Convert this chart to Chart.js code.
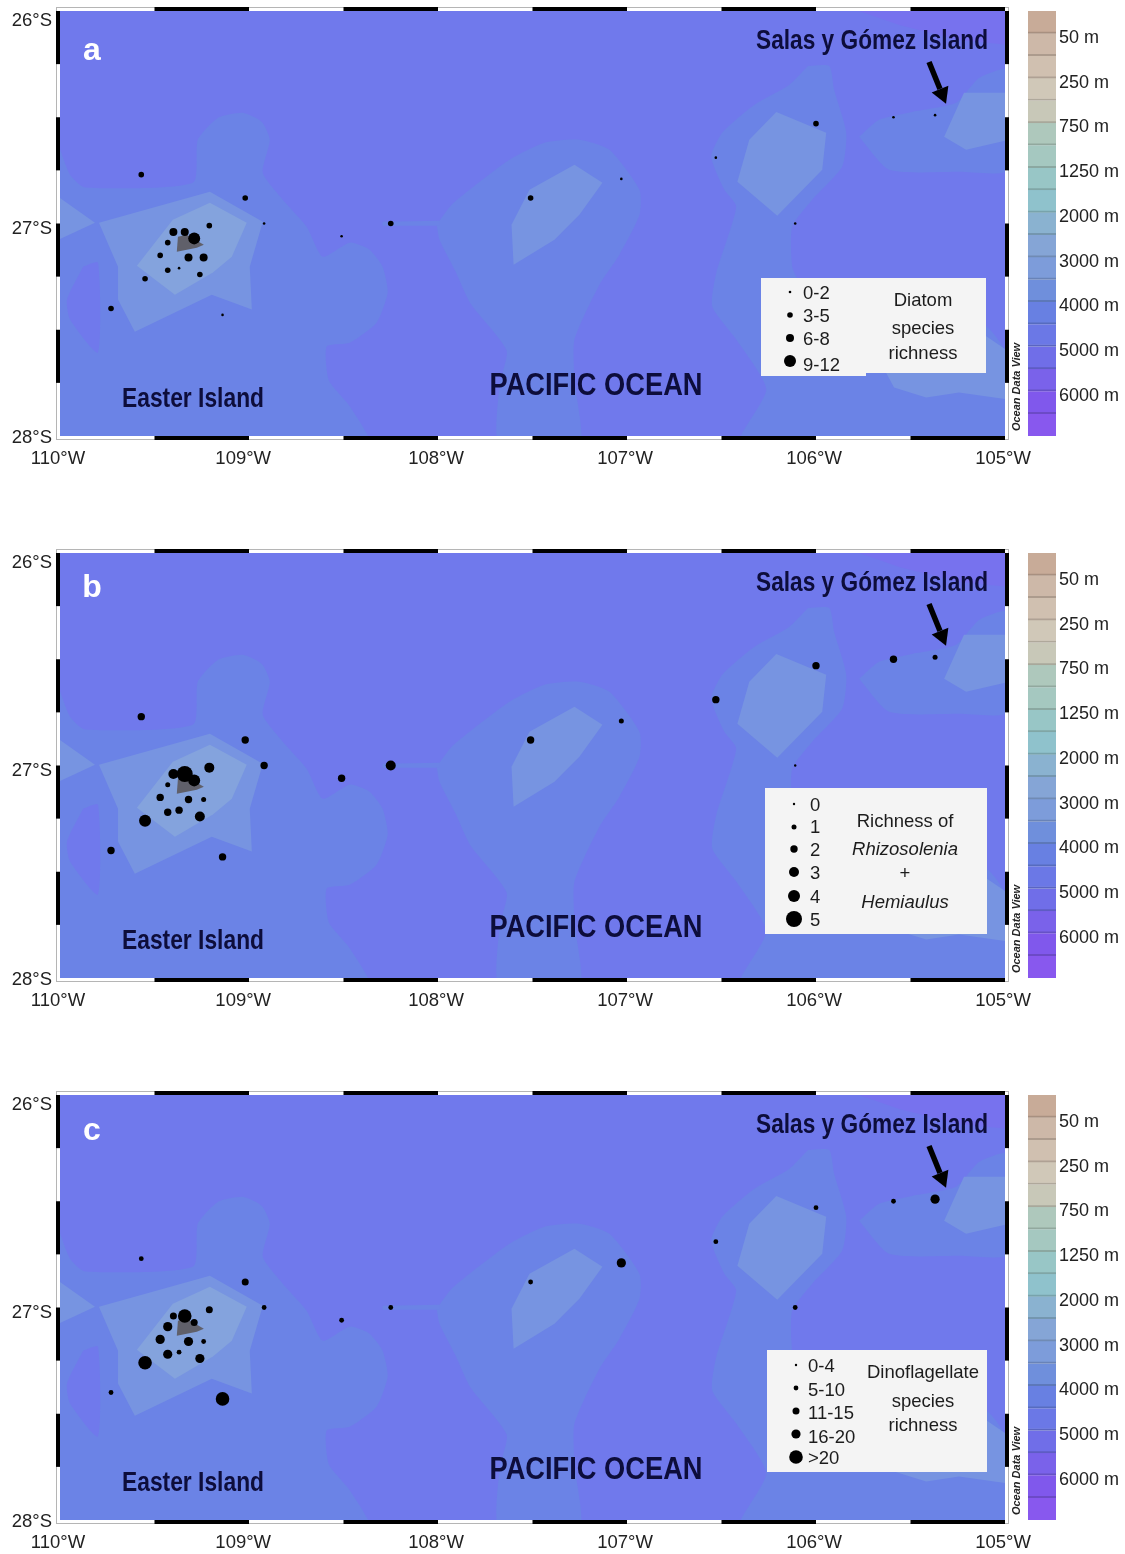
<!DOCTYPE html>
<html>
<head>
<meta charset="utf-8">
<title>Species richness, Easter Island to Salas y Gómez</title>
<script src="https://cdn.jsdelivr.net/npm/chart.js@4/dist/chart.umd.min.js"></script>
<style>
  html, body { margin: 0; padding: 0; background: #fff; }
  body { width: 1125px; height: 1554px; position: relative; overflow: hidden; }
  canvas { position: absolute; display: block; }
</style>
</head>
<body>
<script>
// sampling stations, lon / lat, same for the three maps
const stationLon = [-109.40, -109.34, -109.29, -109.21, -109.43, -109.47, -109.32, -109.24, -109.43, -109.37, -109.26, -109.55, -109.02,
                    -109.57, -109.73, -109.14, -108.92, -108.51, -108.25, -107.51, -107.03, -106.53, -106.00, -106.11, -105.59, -105.37];
const stationLat = [-27.04, -27.04, -27.07, -27.01, -27.09, -27.15, -27.16, -27.16, -27.22, -27.21, -27.24, -27.26, -26.88,
                    -26.77, -27.40, -27.43, -27.00, -27.06, -27.00, -26.88, -26.79, -26.69, -26.53, -27.00, -26.50, -26.49];

// legend class of each station
const classesA = [2, 2, 3, 1, 1, 1, 2, 2, 1, 0, 1, 1, 1, 1, 1, 0, 0, 0, 1, 1, 0, 0, 1, 0, 0, 0];
const classesB = [3, 5, 4, 3, 1, 2, 2, 1, 2, 2, 3, 4, 2, 2, 2, 2, 2, 2, 3, 2, 1, 2, 2, 0, 2, 1];
const classesC = [2, 4, 2, 2, 3, 3, 3, 1, 3, 1, 3, 4, 2, 1, 1, 4, 1, 1, 1, 1, 3, 1, 1, 1, 1, 3];

const legendA = ['0-2', '3-5', '6-8', '9-12'];
const legendB = ['0', '1', '2', '3', '4', '5'];
const legendC = ['0-4', '5-10', '11-15', '16-20', '>20'];

const titleA = ['Diatom', 'species', 'richness'];
const titleB = ['Richness of', 'Rhizosolenia', '+', 'Hemiaulus'];
const titleC = ['Dinoflagellate', 'species', 'richness'];

// axis labels sit a little off the true graticule in the original
const lonTicks = [-110, -109.02, -108, -107, -106, -105];
const latTicks = [-26.04, -27.02, -28];

// colour bar
const depthTicks = ['50 m', '250 m', '750 m', '1250 m', '2000 m', '3000 m', '4000 m', '5000 m', '6000 m'];
const depthColors = ['#c8ab98', '#cdb8a8', '#d0c0b0', '#d0c8b8', '#c8c8b8', '#aec8bc', '#a5c8c0', '#98c6c6', '#8fc2cc', '#8ab2d0',
                     '#85a5d6', '#7d9cda', '#6f8fdc', '#6880e2', '#6b78e6', '#706ee8', '#7a62ea', '#8058ec', '#8858ee'];

// bathymetry contours, [lon, lat]
const deepCorner = [[-105.772, -26.0], [-105.56, -26.066], [-105.243, -26.136], [-104.979, -26.16], [-104.979, -25.97]];
const deepPatch = [[-109.878, -27.203], [-109.799, -27.184], [-109.799, -27.607], [-109.947, -27.452], [-109.963, -27.358]];
const easterOuter = [[-110, -26.65], [-109.947, -26.77], [-109.868, -26.83], [-109.297, -26.808], [-109.271, -26.606], [-109.165, -26.503],
                     [-109.033, -26.479], [-108.932, -26.522], [-108.89, -26.606], [-108.927, -26.761], [-108.821, -26.888], [-108.695, -27.015],
                     [-108.61, -27.156], [-108.467, -27.09], [-108.362, -27.123], [-108.293, -27.203], [-108.266, -27.325], [-108.325, -27.467],
                     [-108.467, -27.561], [-108.589, -27.579], [-108.577, -27.739], [-108.467, -27.86], [-108.362, -28.05], [-110, -28.05]];
const easterSliver = [[-108.293, -26.992], [-107.992, -26.987], [-107.992, -27.011], [-108.293, -27.011]];
const centerOuter = [[-108.007, -27.006], [-107.928, -26.912], [-107.833, -26.841], [-107.622, -26.7], [-107.437, -26.62], [-107.252, -26.606],
                     [-107.093, -26.653], [-106.934, -26.841], [-106.934, -26.959], [-107.04, -27.147], [-107.146, -27.288], [-107.278, -27.546],
                     [-107.278, -27.734], [-107.252, -28.05], [-107.674, -28.05], [-107.674, -27.758], [-107.637, -27.598], [-107.828, -27.377], [-107.912, -27.217], [-107.992, -27.076]];
const eastOuter = [[-106.042, -26.259], [-106.142, -26.348], [-106.327, -26.442], [-106.496, -26.573], [-106.554, -26.686], [-106.485, -26.841],
                   [-106.422, -26.921], [-106.527, -27.231], [-106.549, -27.391], [-106.422, -27.546], [-106.263, -27.781], [-106.406, -28.05],
                   [-104.979, -28.05], [-104.979, -27.64], [-105.111, -27.476], [-105.666, -27.358], [-106.089, -27.264], [-106.126, -27.203],
                   [-106.126, -27.015], [-106.02, -26.888], [-105.862, -26.733], [-105.84, -26.573], [-105.904, -26.371], [-105.93, -26.259]];
const salasOuter = [[-105.772, -26.592], [-105.666, -26.512], [-105.492, -26.475], [-105.259, -26.432], [-105.137, -26.315], [-104.979, -26.277],
                    [-104.979, -26.747], [-105.243, -26.757], [-105.613, -26.747]];
const easterMid = [[-109.794, -26.996], [-109.207, -26.851], [-108.927, -26.992], [-108.996, -27.203], [-108.985, -27.405], [-109.197, -27.335],
                   [-109.604, -27.509], [-109.693, -27.358], [-109.693, -27.203]];
const westWedge = [[-110, -26.88], [-109.815, -26.996], [-110, -27.073]];
const centerMid = [[-107.611, -27.006], [-107.516, -26.841], [-107.278, -26.724], [-107.13, -26.808], [-107.252, -26.959], [-107.384, -27.076], [-107.6, -27.194]];
const eastMid = [[-106.21, -26.475], [-105.946, -26.573], [-105.967, -26.747], [-106.205, -26.964], [-106.416, -26.804], [-106.353, -26.606]];
const salasMid = [[-105.217, -26.385], [-104.979, -26.385], [-104.979, -26.606], [-105.206, -26.653], [-105.322, -26.592]];
const southEastMid = [[-105.629, -27.702], [-105.587, -27.772], [-105.417, -27.819], [-105.243, -27.795], [-104.979, -27.828], [-104.979, -27.603], [-105.111, -27.523], [-105.111, -27.702]];
const easterInner = [[-109.593, -27.199], [-109.403, -26.982], [-109.207, -26.902], [-109.012, -26.996], [-109.091, -27.156], [-109.191, -27.231], [-109.392, -27.335]];
const island = [[-109.376, -27.062], [-109.382, -27.133], [-109.276, -27.114], [-109.239, -27.1], [-109.329, -27.053]];
const salasArrow = [[-105.402, -26.24], [-105.312, -26.437]];

const panels = [
    { letter: 'a', letterY: 60, top: 0, classes: classesA, radii: [1.3, 2.8, 4, 6], labels: legendA, title: titleA,
      boxes: [[761, 278, 105, 98], [866, 278, 120, 95]], dotX: 790, dotY: [292, 315, 338, 361], labelX: 803, labelY: [293, 316, 339, 365],
      titleX: 923, titleY: [300, 328, 353], italic: [] },
    { letter: 'b', letterY: 55, top: 542, classes: classesB, radii: [1.2, 2.5, 3.7, 5, 6, 8], labels: legendB, title: titleB,
      boxes: [[765, 246, 222, 146]], dotX: 794, dotY: [262, 285, 307, 330, 354, 377], labelX: 810, labelY: [263, 285, 308, 331, 355, 378],
      titleX: 905, titleY: [279, 307, 331, 360], italic: [1, 3] },
    { letter: 'c', letterY: 56, top: 1084, classes: classesC, radii: [1.2, 2.4, 3.5, 4.6, 6.8], labels: legendC, title: titleC,
      boxes: [[767, 266, 220, 122]], dotX: 796, dotY: [281, 304, 327, 350, 373], labelX: 808, labelY: [282, 306, 329, 353, 374],
      titleX: 923, titleY: [288, 317, 341], italic: [] }
];

const SEA = '#7079ec', LEVEL1 = '#6b83e6', LEVEL2 = '#7794e1', LEVEL3 = '#84a3dd', CORNER = '#7772ee', LAND = '#60606a', INK = '#0d0d3b';
const SANS = '"Liberation Sans", Arial, sans-serif';

function shape(points, color, tension) {
    const ring = points.concat([points[0]]).map(p => ({ x: p[0], y: p[1] }));
    return { data: ring, showLine: true, fill: 'shape', backgroundColor: color, borderWidth: 0, pointRadius: 0, tension: tension || 0 };
}

function darken(hex) {
    const n = parseInt(hex.slice(1), 16);
    const c = [n >> 16, (n >> 8) & 255, n & 255].map(v => Math.round(v * 0.84));
    return `rgb(${c[0]},${c[1]},${c[2]})`;
}

// checkered map frame
const framePlugin = {
    id: 'frame',
    afterDatasetsDraw(chart) {
        const { ctx, chartArea: a, scales: { x, y } } = chart;
        ctx.save();
        ctx.fillStyle = '#fff';
        ctx.strokeStyle = '#b5b5b5';
        ctx.lineWidth = 1;
        ctx.fillRect(a.left - 3, a.top - 3, a.width + 6, 3);
        ctx.fillRect(a.left - 3, a.bottom, a.width + 6, 3);
        ctx.fillRect(a.left - 3, a.top, 3, a.height);
        ctx.fillRect(a.right, a.top, 3, a.height);
        ctx.strokeRect(a.left - 3.5, a.top - 3.5, a.width + 7, a.height + 7);
        ctx.fillStyle = '#000';
        for (let lon = -109.5; lon < -105; lon += 1) {
            const x0 = x.getPixelForValue(lon), x1 = x.getPixelForValue(lon + 0.5);
            ctx.fillRect(x0, a.top - 4, x1 - x0, 4);
            ctx.fillRect(x0, a.bottom, x1 - x0, 4);
        }
        for (let lat = -26; lat > -28; lat -= 0.5) {
            const y0 = y.getPixelForValue(lat), y1 = y.getPixelForValue(lat - 0.25);
            ctx.fillRect(a.left - 4, y0, 4, y1 - y0);
            ctx.fillRect(a.right, y0, 4, y1 - y0);
        }
        ctx.restore();
    }
};

// place names, arrow, and the class legend
const notesPlugin = {
    id: 'notes',
    afterDraw(chart, args, opts) {
        const { ctx, scales: { x, y } } = chart;
        const p = opts.panel;
        ctx.save();
        ctx.textAlign = 'center';
        ctx.textBaseline = 'middle';

        ctx.fillStyle = '#f4f4f4';
        p.boxes.forEach(b => ctx.fillRect(b[0], b[1], b[2], b[3]));

        ctx.fillStyle = '#000';
        p.radii.forEach((r, i) => {
            ctx.beginPath();
            ctx.arc(p.dotX, p.dotY[i], r, 0, Math.PI * 2);
            ctx.fill();
        });

        ctx.fillStyle = '#1c1c1c';
        ctx.textAlign = 'left';
        ctx.font = `18.5px ${SANS}`;
        p.labels.forEach((t, i) => ctx.fillText(t, p.labelX, p.labelY[i] + 1));
        ctx.textAlign = 'center';
        p.title.forEach((t, i) => {
            ctx.font = `${p.italic.includes(i) ? 'italic ' : ''}18.5px ${SANS}`;
            ctx.fillText(t, p.titleX, p.titleY[i] + 1);
        });

        ctx.fillStyle = INK;
        ctx.font = `bold 27px ${SANS}`;
        ctx.fillText('Salas y Gómez Island', 872, 42, 232);
        ctx.fillText('Easter Island', 193, 400, 142);
        ctx.font = `bold 31px ${SANS}`;
        ctx.fillText('PACIFIC OCEAN', 596, 386, 213);

        ctx.fillStyle = '#fff';
        ctx.font = `bold 32px ${SANS}`;
        ctx.textBaseline = 'alphabetic';
        ctx.fillText(p.letter, 92, p.letterY);

        // arrow to Salas y Gómez
        const x0 = x.getPixelForValue(salasArrow[0][0]), y0 = y.getPixelForValue(salasArrow[0][1]);
        const x1 = x.getPixelForValue(salasArrow[1][0]), y1 = y.getPixelForValue(salasArrow[1][1]);
        const ang = Math.atan2(y1 - y0, x1 - x0);
        const nx = x1 - 16 * Math.cos(ang), ny = y1 - 16 * Math.sin(ang);
        ctx.strokeStyle = '#000';
        ctx.lineWidth = 5.5;
        ctx.beginPath();
        ctx.moveTo(x0, y0);
        ctx.lineTo(nx, ny);
        ctx.stroke();
        ctx.fillStyle = '#000';
        ctx.beginPath();
        ctx.moveTo(x1, y1);
        ctx.lineTo(nx + 9 * Math.sin(ang), ny - 9 * Math.cos(ang));
        ctx.lineTo(nx - 9 * Math.sin(ang), ny + 9 * Math.cos(ang));
        ctx.closePath();
        ctx.fill();

        // ODV stamp
        ctx.translate(1017, 387);
        ctx.rotate(-Math.PI / 2);
        ctx.textBaseline = 'middle';
        ctx.fillStyle = '#222';
        ctx.font = `bold italic 11px ${SANS}`;
        ctx.fillText('Ocean Data View', 0, 0, 90);
        ctx.restore();
    }
};

function drawMap(panel) {
    const canvas = document.createElement('canvas');
    canvas.width = 1045;
    canvas.height = 475;
    canvas.style.left = '0px';
    canvas.style.top = panel.top + 'px';
    document.body.appendChild(canvas);

    const stations = {
        data: stationLon.map((lon, i) => ({ x: lon, y: stationLat[i] })),
        showLine: false,
        backgroundColor: '#000',
        borderWidth: 0,
        pointRadius: panel.classes.map(c => panel.radii[c])
    };

    new Chart(canvas.getContext('2d'), {
        type: 'scatter',
        // first dataset ends up on top
        data: {
            datasets: [
                stations,
                shape(island, LAND),
                shape(easterInner, LEVEL3),
                shape(easterMid, LEVEL2),
                shape(westWedge, LEVEL2),
                shape(centerMid, LEVEL2),
                shape(eastMid, LEVEL2),
                shape(salasMid, LEVEL2),
                shape(southEastMid, LEVEL2),
                shape(deepPatch, SEA, 0.2),
                shape(easterOuter, LEVEL1, 0.2),
                shape(easterSliver, LEVEL1),
                shape(centerOuter, LEVEL1, 0.2),
                shape(eastOuter, LEVEL1, 0.2),
                shape(salasOuter, LEVEL1, 0.2),
                shape(deepCorner, CORNER)
            ]
        },
        plugins: [
            { id: 'sea', beforeDatasetsDraw(chart) {
                const { ctx, chartArea: a } = chart;
                ctx.fillStyle = SEA;
                ctx.fillRect(a.left, a.top, a.width, a.height);
            } },
            framePlugin,
            notesPlugin
        ],
        options: {
            responsive: false,
            animation: false,
            events: [],
            layout: { padding: { left: 0, top: 11, right: 40, bottom: 0 } },
            plugins: { legend: { display: false }, tooltip: { enabled: false }, notes: { panel: panel } },
            scales: {
                x: {
                    type: 'linear',
                    min: -110,
                    max: -105,
                    afterFit(scale) { scale.height = 39; scale.paddingLeft = 0; scale.paddingRight = 0; },
                    afterBuildTicks(scale) { scale.ticks = lonTicks.map(v => ({ value: v })); },
                    grid: { display: false, tickLength: 0 },
                    border: { display: false },
                    ticks: {
                        maxRotation: 0,
                        padding: 12,
                        labelOffset: -2,
                        color: '#222',
                        font: { family: 'Liberation Sans', size: 18.5 },
                        callback: v => Math.abs(Math.round(v)) + '°W'
                    }
                },
                y: {
                    type: 'linear',
                    min: -28,
                    max: -26,
                    afterFit(scale) { scale.width = 60; scale.paddingTop = 0; scale.paddingBottom = 0; },
                    afterBuildTicks(scale) { scale.ticks = latTicks.map(v => ({ value: v })); },
                    grid: { display: false, tickLength: 0 },
                    border: { display: false },
                    ticks: {
                        padding: 8,
                        labelOffset: 1.5,
                        color: '#222',
                        font: { family: 'Liberation Sans', size: 18.5 },
                        callback: v => Math.abs(Math.round(v)) + '°S'
                    }
                }
            }
        }
    });
}

function drawColorBar(panel) {
    const canvas = document.createElement('canvas');
    canvas.width = 105;
    canvas.height = 475;
    canvas.style.left = '1020px';
    canvas.style.top = panel.top + 'px';
    document.body.appendChild(canvas);

    new Chart(canvas.getContext('2d'), {
        type: 'bar',
        data: {
            labels: ['depth'],
            datasets: depthColors.map((c, i) => ({
                data: [1],
                backgroundColor: c,
                borderColor: darken(c),
                borderWidth: { top: 0, left: 0, right: 0, bottom: i < depthColors.length - 1 ? 2 : 0 },
                borderSkipped: false,
                barPercentage: 1,
                categoryPercentage: 1
            }))
        },
        options: {
            responsive: false,
            animation: false,
            events: [],
            layout: { padding: { left: 8, top: 11, right: 0, bottom: 0 } },
            plugins: { legend: { display: false }, tooltip: { enabled: false } },
            scales: {
                x: {
                    stacked: true,
                    display: true,
                    afterFit(scale) { scale.height = 39; },
                    grid: { display: false, tickLength: 0 },
                    border: { display: false },
                    ticks: { display: false }
                },
                y: {
                    stacked: true,
                    reverse: true,
                    position: 'right',
                    min: 0,
                    max: 19,
                    afterFit(scale) { scale.width = 69; scale.paddingTop = 0; scale.paddingBottom = 0; },
                    afterBuildTicks(scale) { scale.ticks = depthTicks.map((t, i) => ({ value: 2 * i + 1 })); },
                    grid: { display: false, tickLength: 0 },
                    border: { display: false },
                    ticks: {
                        padding: 3,
                        labelOffset: 4.5,
                        color: '#222',
                        font: { family: 'Liberation Sans', size: 18 },
                        callback: v => depthTicks[(v - 1) / 2]
                    }
                }
            }
        }
    });
}

panels.forEach(p => {
    drawMap(p);
    drawColorBar(p);
});
</script>
</body>
</html>
